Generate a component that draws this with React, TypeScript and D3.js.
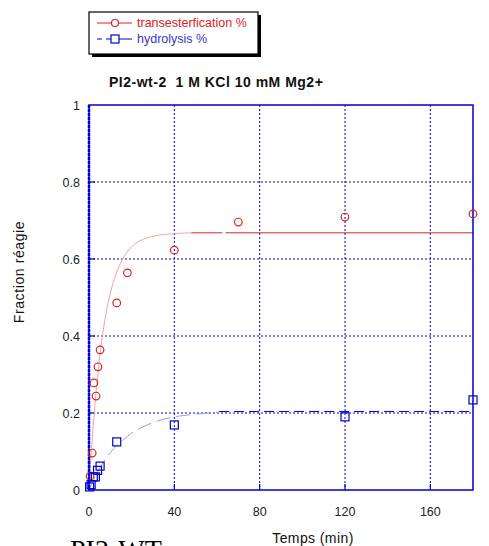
import React from "react";
import * as d3 from "d3";

// measured points
const transT = [0.5, 1.5, 2.3, 3.3, 4.2, 5.2, 13, 18, 40, 70, 120, 180];
const transY = [0.036, 0.096, 0.278, 0.244, 0.32, 0.364, 0.486, 0.564, 0.623, 0.696, 0.709, 0.717];
const hydroT = [0.3, 1, 2, 3, 4, 5.2, 13, 40, 120, 180];
const hydroY = [0.008, 0.014, 0.034, 0.034, 0.051, 0.062, 0.125, 0.169, 0.19, 0.234];

// fitted curves
const transFitT = [0, 1, 2, 3, 4, 5, 6, 8, 10, 13, 16, 20, 25, 30, 40, 48];
const transFitY = [0, 0.09, 0.17, 0.235, 0.294, 0.344, 0.388, 0.459, 0.511, 0.566, 0.602, 0.632, 0.65, 0.659, 0.666, 0.668];
const transPlateau = 0.668;
const hydroFitT = [0, 2, 4, 6, 8, 10, 13, 16, 20, 25, 30, 35, 40, 50, 61];
const hydroFitY = [0, 0.025, 0.047, 0.065, 0.083, 0.097, 0.117, 0.13, 0.148, 0.163, 0.175, 0.184, 0.19, 0.197, 0.202];
const hydroPlateau = 0.204;

const xTicks = [0, 40, 80, 120, 160];
const yTicks = [0, 0.2, 0.4, 0.6, 0.8, 1];

const BLUE = "#0000cc";
const RED = "#e02020";

export default function App() {
  const x = d3.scaleLinear().domain([0, 180]).range([89, 473]);
  const y = d3.scaleLinear().domain([0, 1]).range([490, 105]);
  const line = d3
    .line<[number, number]>()
    .x((d) => x(d[0]))
    .y((d) => y(d[1]))
    .curve(d3.curveMonotoneX);

  const transFit = transFitT.map((t, i) => [t, transFitY[i]] as [number, number]);
  const hydroFit = hydroFitT.map((t, i) => [t, hydroFitY[i]] as [number, number]);
  const font = "Arial, 'Liberation Sans', sans-serif";

  return (
    <svg
      width={489}
      height={546}
      style={{ position: "absolute", left: 0, top: 0, background: "#fff" }}
      fontFamily={font}
    >
      {/* legend */}
      <rect x={92} y={15} width={169} height={42} fill="#000" />
      <rect x={89} y={12} width={169} height={42} fill="#fff" stroke="#000" strokeWidth={1.2} />
      <line x1={97} x2={132} y1={23} y2={23} stroke={RED} strokeWidth={1} />
      <circle cx={115} cy={23} r={3.5} fill="#fff" stroke={RED} strokeWidth={1.2} />
      <text x={137} y={27} fontSize={12.5} fill={RED}>transesterfication %</text>
      <line x1={97} x2={102} y1={39} y2={39} stroke={BLUE} strokeWidth={1} />
      <line x1={106} x2={132} y1={39} y2={39} stroke={BLUE} strokeWidth={1} />
      <rect x={111} y={35} width={8} height={8} fill="#fff" stroke={BLUE} strokeWidth={1.2} />
      <text x={137} y={43} fontSize={12.5} fill="#3333cc">hydrolysis %</text>

      {/* title */}
      <text x={109} y={87} fontSize={14} fontWeight="bold" fill="#111" letterSpacing={0.5} style={{ whiteSpace: "pre" }}>
        {"PI2-wt-2  1 M KCl 10 mM Mg2+"}
      </text>

      {/* grid */}
      {xTicks.slice(1).map((t) => (
        <line key={"gx" + t} x1={x(t)} x2={x(t)} y1={y(1)} y2={y(0)} stroke={BLUE} strokeWidth={1} strokeDasharray="2,2" />
      ))}
      {yTicks.slice(1, -1).map((t) => (
        <line key={"gy" + t} x1={x(0)} x2={x(180)} y1={y(t)} y2={y(t)} stroke={BLUE} strokeWidth={1} strokeDasharray="2,2" />
      ))}

      {/* ticks */}
      {xTicks.slice(1).map((t) => (
        <line key={"tx" + t} x1={x(t)} x2={x(t)} y1={y(0)} y2={y(0) - 6} stroke={BLUE} strokeWidth={1.2} />
      ))}
      {yTicks.slice(1, -1).map((t) => (
        <line key={"ty" + t} x1={x(0)} x2={x(0) + 6} y1={y(t)} y2={y(t)} stroke={BLUE} strokeWidth={1.2} />
      ))}

      {/* fits */}
      <path d={line(transFit) || ""} fill="none" stroke="#f4a4a4" strokeWidth={1} />
      <line x1={x(48)} x2={x(62.5)} y1={y(transPlateau)} y2={y(transPlateau)} stroke={RED} strokeWidth={1} />
      <line x1={x(64)} x2={x(180)} y1={y(transPlateau)} y2={y(transPlateau)} stroke={RED} strokeWidth={1} />
      <path d={line(hydroFit) || ""} fill="none" stroke="#9a9af0" strokeWidth={1} strokeDasharray="14,6" />
      <line x1={x(61)} x2={x(180)} y1={y(hydroPlateau)} y2={y(hydroPlateau)} stroke={BLUE} strokeWidth={1} strokeDasharray="10,5" />

      {/* frame */}
      <rect x={x(0)} y={y(1)} width={x(180) - x(0)} height={y(0) - y(1)} fill="none" stroke={BLUE} strokeWidth={1.5} />
      <line x1={x(0)} x2={x(0)} y1={y(1)} y2={y(0)} stroke={BLUE} strokeWidth={2.5} strokeDasharray="3,1" />

      {/* points */}
      {transT.map((t, i) => (
        <circle key={"c" + i} cx={x(t)} cy={y(transY[i])} r={3.8} fill="none" stroke={RED} strokeWidth={1.2} />
      ))}
      {hydroT.map((t, i) => (
        <rect key={"s" + i} x={x(t) - 4} y={y(hydroY[i]) - 4} width={8} height={8} fill="none" stroke={BLUE} strokeWidth={1.2} />
      ))}

      {/* tick labels */}
      {yTicks.map((t) => (
        <text key={"ly" + t} x={80} y={y(t) + 5} fontSize={12.5} textAnchor="end" fill="#222">
          {d3.format("~g")(t)}
        </text>
      ))}
      {xTicks.map((t) => (
        <text key={"lx" + t} x={x(t)} y={516} fontSize={12.5} textAnchor="middle" fill="#222">
          {t}
        </text>
      ))}

      {/* axis titles */}
      <text x={313} y={543} fontSize={14} textAnchor="middle" fill="#111" letterSpacing={0.4}>
        Temps (min)
      </text>
      <text
        transform={`translate(24,272) rotate(-90)`}
        fontSize={14}
        textAnchor="middle"
        fill="#111"
        letterSpacing={0.6}
      >
        Fraction réagie
      </text>

      <text x={70} y={559} fontSize={28} fontFamily="'Liberation Serif', 'Times New Roman', serif" fill="#000">
        PI2-WT
      </text>
    </svg>
  );
}
